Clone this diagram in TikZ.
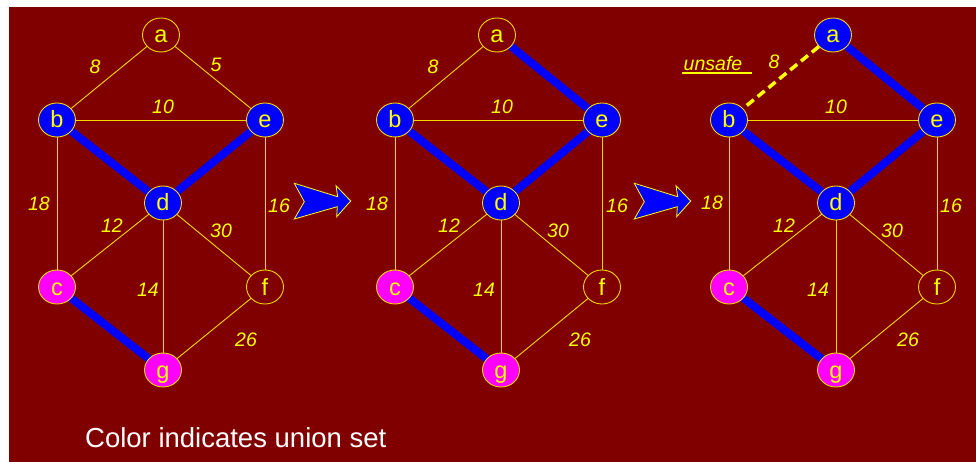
\documentclass[tikz,border=0pt]{standalone}
\usepackage{fontspec}
\setmainfont{Liberation Sans}
\usetikzlibrary{shapes.geometric}
\definecolor{maroon}{RGB}{128,0,0}
\definecolor{yel}{RGB}{255,255,0}
\definecolor{lin}{RGB}{245,215,0}
\definecolor{blu}{RGB}{0,0,255}
\definecolor{mag}{RGB}{255,0,255}
\pgfdeclarelayer{canvas}
\pgfdeclarelayer{bg}
\pgfsetlayers{canvas,bg,main}
\begin{document}
\begin{tikzpicture}[x=1pt,y=-1pt,
  vtx/.style={ellipse, draw=lin, line width=0.9pt, minimum width=37pt, minimum height=34pt,
    inner sep=0pt, text=yel, font=\fontsize{23.5}{23.5}\selectfont, text height=16pt, text depth=0pt},
  vblue/.style={vtx, fill=blu},
  vmag/.style={vtx, fill=mag},
  vnone/.style={vtx, fill=maroon},
  thinedge/.style={draw=lin, line width=0.9pt},
  thickedge/.style={draw=blu, line width=8pt},
  dashedge/.style={draw=yel, line width=3.5pt, dash pattern=on 9pt off 5pt},
  wt/.style={text=yel, font=\fontsize{19.5}{19.5}\selectfont\itshape, inner sep=0pt},
  blockarrow/.style={fill=blu, draw=yel, line width=0.8pt, line join=miter},
]
\useasboundingbox (0,0) rectangle (976,462);
\begin{pgfonlayer}{canvas}
\fill[white] (0,0) rectangle (976,462);
\fill[maroon] (9,7) rectangle (976,462);
\end{pgfonlayer}

% ---------- panel 1 ----------
\node[vnone] (a1) at (161,35) {a};
\node[vblue] (b1) at (57,120) {b};
\node[vblue] (e1) at (265,120) {e};
\node[vblue] (d1) at (163,203) {d};
\node[vmag]  (c1) at (57,287) {c};
\node[vnone] (f1) at (265,287) {f};
\node[vmag]  (g1) at (163,370) {g};
\begin{pgfonlayer}{bg}
\draw[thinedge] (a1.center) -- (b1.center);
\draw[thinedge] (a1.center) -- (e1.center);
\draw[thinedge] (b1.center) -- (e1.center);
\draw[thinedge] (b1.center) -- (c1.center);
\draw[thinedge] (e1.center) -- (f1.center);
\draw[thinedge] (d1.center) -- (c1.center);
\draw[thinedge] (d1.center) -- (f1.center);
\draw[thinedge] (d1.center) -- (g1.center);
\draw[thinedge] (f1.center) -- (g1.center);
\draw[thickedge] (b1.center) -- (d1.center);
\draw[thickedge] (e1.center) -- (d1.center);
\draw[thickedge] (c1.center) -- (g1.center);
\end{pgfonlayer}
\node[wt] (w1ab) at (95,67) {8};
\node[wt] (w1ae) at (216,65) {5};
\node[wt] (w1be) at (163,107) {10};
\node[wt] (w1bc) at (39,204) {18};
\node[wt] (w1dc) at (112,226) {12};
\node[wt] (w1df) at (221,231) {30};
\node[wt] (w1ef) at (279,206) {16};
\node[wt] (w1dg) at (148,290) {14};
\node[wt] (w1fg) at (246,340) {26};

% ---------- panel 2 ----------
\node[vnone] (a2) at (497,35) {a};
\node[vblue] (b2) at (395,120) {b};
\node[vblue] (e2) at (602,120) {e};
\node[vblue] (d2) at (501,203) {d};
\node[vmag]  (c2) at (395,287) {c};
\node[vnone] (f2) at (602,287) {f};
\node[vmag]  (g2) at (501,370) {g};
\begin{pgfonlayer}{bg}
\draw[thinedge] (a2.center) -- (b2.center);
\draw[thinedge] (b2.center) -- (e2.center);
\draw[thinedge] (b2.center) -- (c2.center);
\draw[thinedge] (e2.center) -- (f2.center);
\draw[thinedge] (d2.center) -- (c2.center);
\draw[thinedge] (d2.center) -- (f2.center);
\draw[thinedge] (d2.center) -- (g2.center);
\draw[thinedge] (f2.center) -- (g2.center);
\draw[thickedge] (a2.center) -- (e2.center);
\draw[thickedge] (b2.center) -- (d2.center);
\draw[thickedge] (e2.center) -- (d2.center);
\draw[thickedge] (c2.center) -- (g2.center);
\end{pgfonlayer}
\node[wt] (w2ab) at (433,67) {8};
\node[wt] (w2be) at (502,107) {10};
\node[wt] (w2bc) at (377,204) {18};
\node[wt] (w2dc) at (449,226) {12};
\node[wt] (w2df) at (558,231) {30};
\node[wt] (w2ef) at (617,206) {16};
\node[wt] (w2dg) at (484,290) {14};
\node[wt] (w2fg) at (580,340) {26};

% ---------- panel 3 ----------
\node[vblue] (a3) at (833,35) {a};
\node[vblue] (b3) at (729,120) {b};
\node[vblue] (e3) at (937,120) {e};
\node[vblue] (d3) at (836,203) {d};
\node[vmag]  (c3) at (729,287) {c};
\node[vnone] (f3) at (937,287) {f};
\node[vmag]  (g3) at (836,370) {g};
\begin{pgfonlayer}{bg}
\draw[thinedge] (b3.center) -- (e3.center);
\draw[thinedge] (b3.center) -- (c3.center);
\draw[thinedge] (e3.center) -- (f3.center);
\draw[thinedge] (d3.center) -- (c3.center);
\draw[thinedge] (d3.center) -- (f3.center);
\draw[thinedge] (d3.center) -- (g3.center);
\draw[thinedge] (f3.center) -- (g3.center);
\draw[thickedge] (a3.center) -- (e3.center);
\draw[thickedge] (b3.center) -- (d3.center);
\draw[thickedge] (e3.center) -- (d3.center);
\draw[thickedge] (c3.center) -- (g3.center);
\end{pgfonlayer}
\draw[dashedge] (a3) -- (b3);
\node[wt] (unsafe) at (713,64) {unsafe};
\draw[draw=yel, line width=1.2pt] (682,73) -- (752,73);
\node[wt] (w3ab) at (774,62) {8};
\node[wt] (w3be) at (836,107) {10};
\node[wt] (w3bc) at (712,203) {18};
\node[wt] (w3dc) at (784,226) {12};
\node[wt] (w3df) at (892,231) {30};
\node[wt] (w3ef) at (951,206) {16};
\node[wt] (w3dg) at (818,290) {14};
\node[wt] (w3fg) at (908,340) {26};

% ---------- block arrows ----------
\foreach \s in {0,340}{
  \begin{scope}[xshift=\s]
  \filldraw[blockarrow] (294.3,183.3) -- (337.7,196.7) -- (336,185.7) -- (350.7,201)
    -- (336.7,216.7) -- (337.3,206.7) -- (294.3,219) -- (304.3,201.7) -- cycle;
  \end{scope}
}

\node[anchor=base west, text=white, inner sep=0pt, font=\fontsize{27.5}{27.5}\selectfont] (caption) at (85,447) {Color indicates union set};
\end{tikzpicture}
\end{document}
